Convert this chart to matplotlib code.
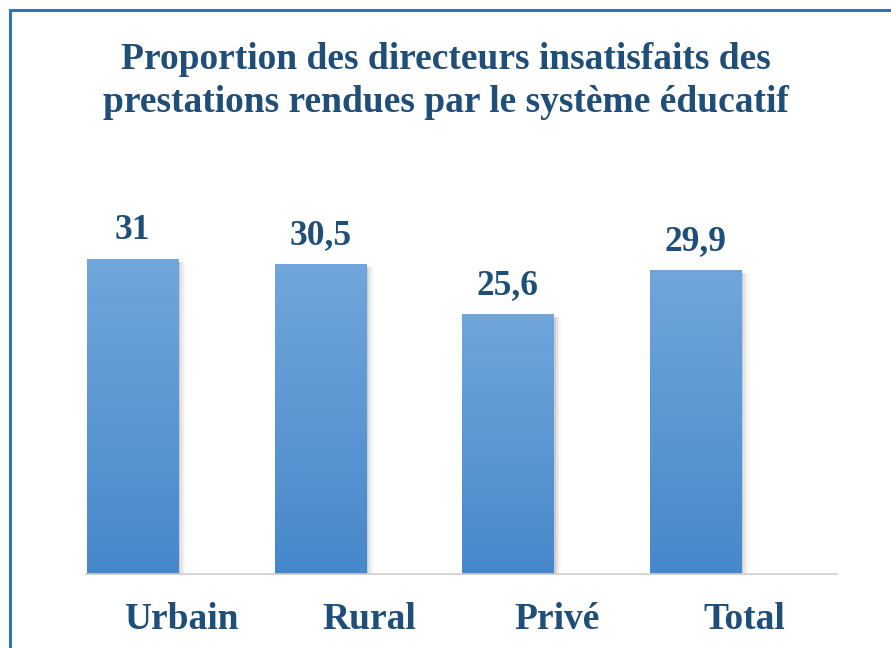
import matplotlib
matplotlib.use("Agg")
import matplotlib.pyplot as plt
import numpy as np
from matplotlib.lines import Line2D
from matplotlib.transforms import blended_transform_factory
from matplotlib.colors import LinearSegmentedColormap

categories = ["Urbain", "Rural", "Privé", "Total"]
values = [31, 30.5, 25.6, 29.9]
value_labels = ["31", "30,5", "25,6", "29,9"]
title = "Proportion des directeurs insatisfaits des\nprestations rendues par le système éducatif"

W, H = 891, 648
fig = plt.figure(figsize=(W / 100, H / 100), dpi=100)
fig.patch.set_facecolor("white")

plt.rcParams["font.family"] = ["Liberation Serif", "DejaVu Serif"]
txt_color = "#1F4E79"

# frame lines (left and top)
fig.add_artist(Line2D([9.5 / W, 9.5 / W], [0, 1 - 9.5 / H], transform=fig.transFigure,
                      color="#2E75B6", lw=2.2))
fig.add_artist(Line2D([9.5 / W, 1], [1 - 9.5 / H, 1 - 9.5 / H], transform=fig.transFigure,
                      color="#2E75B6", lw=2.2))

ax = fig.add_axes([85 / W, (H - 575) / H, (838 - 85) / W, (575 - 150) / H])
ax.axis("off")

x = np.arange(len(categories))
width = 0.485
cmap = LinearSegmentedColormap.from_list("g", ["#4688CB", "#70A6DB"])
grad = np.linspace(0, 1, 256).reshape(-1, 1)

for xi, v, lab in zip(x, values, value_labels):
    # soft shadow
    for dx, a in [(0.012, 0.20), (0.022, 0.13), (0.032, 0.08), (0.042, 0.04)]:
        ax.bar(xi + dx, v - 0.25, width=width, bottom=0, color="#7F7F7F", alpha=a,
               linewidth=0, zorder=1)
    b = ax.bar(xi, v, width=width, color="none", linewidth=0, zorder=2)[0]
    im = ax.imshow(grad, cmap=cmap, aspect="auto", origin="lower",
                   extent=[xi - width / 2, xi + width / 2, 0, v], zorder=2)
    im.set_clip_path(b)
    ax.annotate(lab, (xi, v), xytext=(0, 14.5),
                textcoords="offset points", ha="center", va="baseline",
                fontsize=25.5, fontweight="bold", color=txt_color)

ax.set_xlim(-0.253, 3.759)
ax.set_ylim(0, 41.7)

ax.axhline(0, color="#D0D0D0", lw=2.6, zorder=3)
ax.axhline(-0.15, color="#E6E6E6", lw=1.5, zorder=0)

tr = blended_transform_factory(ax.transData, fig.transFigure)
for xi, c in zip(x, categories):
    ax.text(xi + 0.26, (H - 629) / H, c, transform=tr, ha="center", va="baseline",
            fontsize=27, fontweight="bold", color=txt_color)

for line, base in zip(title.split("\n"), [69, 112]):
    fig.text(0.5, (H - base) / H, line, ha="center", va="baseline", fontsize=27,
             fontweight="bold", color=txt_color)

fig.savefig("out.png", dpi=100)
